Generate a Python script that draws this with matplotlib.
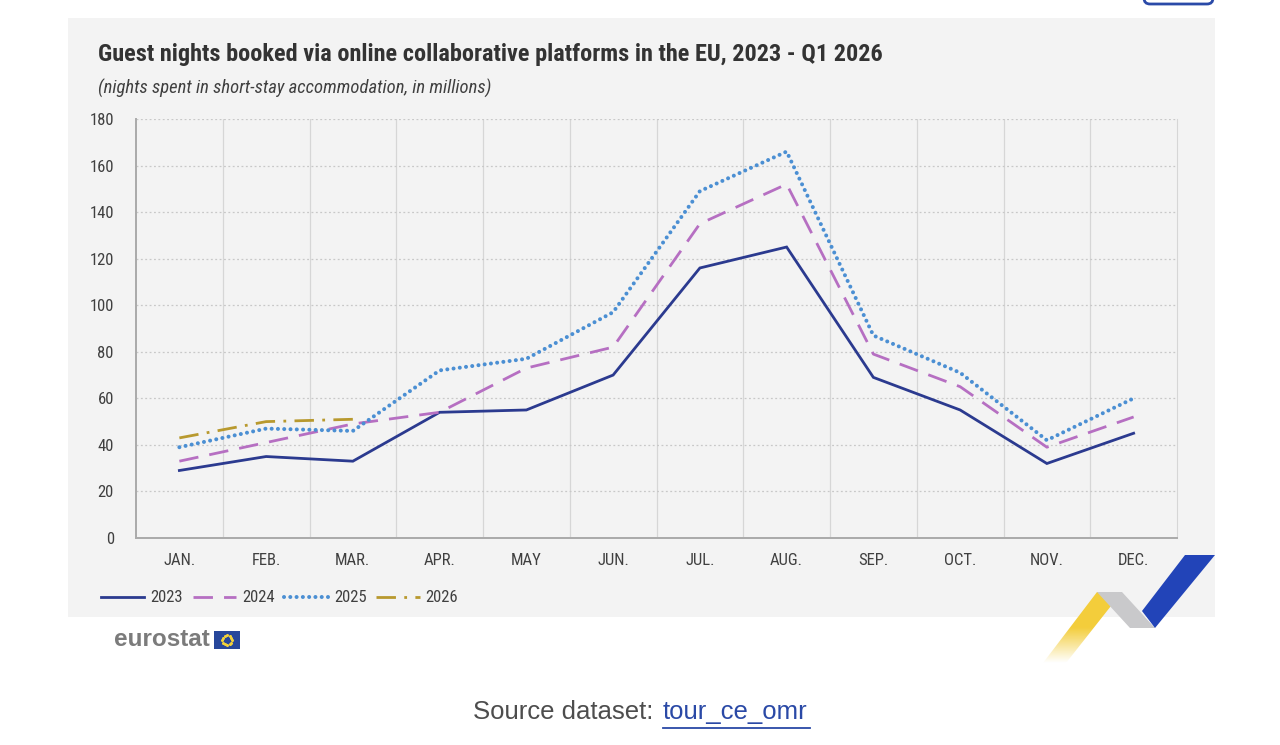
# Guest nights booked via online collaborative platforms in the EU (eurostat style)
import matplotlib
matplotlib.use("Agg")
import matplotlib.pyplot as plt
from matplotlib.lines import Line2D
from matplotlib.patches import Polygon, Rectangle, FancyBboxPatch
import numpy as np

W, H = 1280, 745

months = ["JAN.", "FEB.", "MAR.", "APR.", "MAY", "JUN.", "JUL.", "AUG.", "SEP.", "OCT.", "NOV.", "DEC."]
y2023 = [29, 35, 33, 54, 55, 70, 116, 125, 69, 55, 32, 45]
y2024 = [33, 41, 49, 54, 73, 82, 135, 152, 79, 65, 39, 52]
y2025 = [39, 47, 46, 72, 77, 97, 149, 166, 87, 71, 42, 60]
y2026 = [43, 50, 51]
years = ["2023", "2024", "2025", "2026"]
yticks = [0, 20, 40, 60, 80, 100, 120, 140, 160, 180]

colors = {"2023": "#2b3a8f", "2024": "#b66fc2", "2025": "#4b8fd3", "2026": "#b8992e"}
styles = {"2023": "-", "2024": (0, (7, 4)), "2025": (0, (0.01, 1.55)), "2026": (0, (7, 3, 1, 3))}
widths = {"2023": 2.0, "2024": 2.0, "2025": 2.9, "2026": 2.0}
caps = {"2023": "butt", "2024": "butt", "2025": "round", "2026": "butt"}

FONT = ["Roboto Condensed", "Liberation Sans Narrow", "DejaVu Sans"]
plt.rcParams["font.family"] = FONT


def fx(x):
    return x / W


def fy(y):
    return 1 - y / H


fig = plt.figure(figsize=(W / 100, H / 100), dpi=100)
fig.patch.set_facecolor("white")

# grey panel (behind everything)
fig.patches.append(Rectangle((fx(68), fy(617)), fx(1215) - fx(68), fy(18) - fy(617),
                             transform=fig.transFigure, facecolor="#f3f3f3", edgecolor="none", zorder=-10))

ax = fig.add_axes([fx(136), fy(538), fx(1177) - fx(136), fy(119) - fy(538)])
ax.set_facecolor("#f3f3f3")

x = np.arange(len(months))
series = {"2023": y2023, "2024": y2024, "2025": y2025, "2026": y2026}
for yr in years:
    vals = series[yr]
    ax.plot(x[:len(vals)], vals, color=colors[yr], linestyle=styles[yr], lw=widths[yr],
            solid_joinstyle="miter", dash_capstyle=caps[yr], zorder=3)

ax.set_xlim(-0.5, 11.5)
ax.set_ylim(0, 180)
ax.set_yticks(yticks)
ax.set_xticks(x)
ax.set_xticklabels(months)
ax.set_xticks(np.arange(0.5, 11.5, 1), minor=True)
ax.tick_params(axis="both", which="both", length=0, labelsize=12, colors="#404040")
ax.tick_params(axis="x", pad=11)
ax.tick_params(axis="y", pad=16)
ax.grid(axis="y", which="major", color="#c8c8c8", linestyle=(0, (1.5, 2)), lw=0.9)
ax.grid(axis="x", which="minor", color="#d6d6d6", linestyle="-", lw=0.9)
ax.grid(axis="x", which="major", visible=False)
ax.spines["top"].set_visible(False)
ax.spines["right"].set_color("#d6d6d6")
ax.spines["left"].set_color("#aaaaaa")
ax.spines["bottom"].set_color("#aaaaaa")
ax.spines["left"].set_linewidth(1.4)
ax.spines["bottom"].set_linewidth(1.4)

# titles
fig.text(fx(98), fy(55), "Guest nights booked via online collaborative platforms in the EU, 2023 - Q1 2026",
         fontsize=17.5, fontweight="bold", color="#333333", va="center", ha="left")
fig.text(fx(98), fy(88), "(nights spent in short-stay accommodation, in millions)",
         fontsize=13.4, style="italic", color="#404040", va="center", ha="left")

# legend
handles = [Line2D([0], [0], color=colors[yr], linestyle=styles[yr], lw=widths[yr],
                  dash_capstyle=caps[yr]) for yr in years]
fig.legend(handles, years, loc="center left", bbox_to_anchor=(fx(94), fy(598)), ncol=4,
           frameon=False, fontsize=12, handlelength=2.6, handletextpad=0.36, columnspacing=0.6,
           labelcolor="#404040", borderaxespad=0)

# overlay axes in pixel coordinates for the decorations
deco = fig.add_axes([0, 0, 1, 1], zorder=5)
deco.set_xlim(0, W)
deco.set_ylim(H, 0)
deco.axis("off")
deco.patch.set_alpha(0)

# eurostat logo
deco.text(114, 640, "eurostat", fontsize=17.5, fontweight="bold", color="#7b7b7b",
          family=["Liberation Sans", "DejaVu Sans"], va="center", ha="left")
deco.add_patch(Rectangle((214, 631), 26, 18, facecolor="#27479b", edgecolor="none"))
ang = np.linspace(0, 2 * np.pi, 12, endpoint=False)
deco.plot(227 + 5 * np.cos(ang), 640 + 5 * np.sin(ang), linestyle="none", marker="o",
          markersize=1.2, color="#f2d13b")

# ribbon decoration: yellow band fading out towards the bottom
yellow = Polygon([(1097, 592), (1122, 592), (1066, 663), (1043, 663)], closed=True,
                 facecolor="none", edgecolor="none")
deco.add_patch(yellow)
grad = np.ones((100, 2, 4))
grad[..., 0], grad[..., 1], grad[..., 2] = 0.953, 0.804, 0.235
a = np.clip(1 - (np.linspace(0, 1, 100) - 0.5) / 0.5, 0, 1)
grad[..., 3] = a[:, None]
img = deco.imshow(grad, extent=(1040, 1125, 663, 592), origin="upper", aspect="auto",
                  interpolation="bilinear", zorder=2)
img.set_clip_path(yellow)
deco.add_patch(Polygon([(1097, 592), (1122, 592), (1155, 628), (1130, 628)], closed=True,
                       facecolor="#c9c9cb", edgecolor="none", zorder=3))
deco.add_patch(Polygon([(1142, 611), (1185, 555), (1215, 555), (1155, 628)], closed=True,
                       facecolor="#2244b8", edgecolor="none", zorder=3))
deco.set_xlim(0, W)
deco.set_ylim(H, 0)

# top-right button outline
deco.add_patch(FancyBboxPatch((1144, -20), 69, 24, boxstyle="round,pad=0,rounding_size=6",
                              facecolor="white", edgecolor="#2a4aa8", lw=2, clip_on=False))

# source line
deco.text(473, 712, "Source dataset:", fontsize=18.5, color="#4d4d4d",
          family=["Liberation Sans", "DejaVu Sans"], va="center", ha="left")
deco.text(663, 712, "tour_ce_omr", fontsize=18.5, color="#2a49a6",
          family=["Liberation Sans", "DejaVu Sans"], va="center", ha="left")
deco.plot([663, 810], [728, 728], color="#2a49a6", lw=1.3)

fig.savefig("out.png", dpi=100, facecolor="white")
